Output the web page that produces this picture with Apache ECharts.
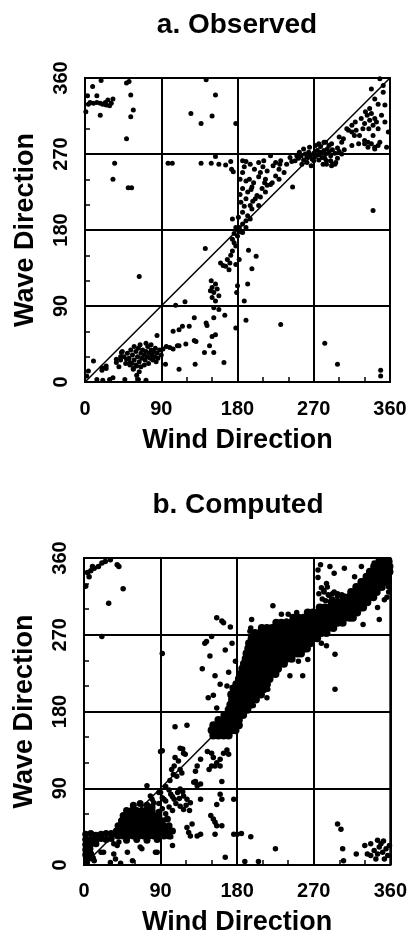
<!DOCTYPE html>
<html>
<head>
<meta charset="utf-8">
<script src="https://cdn.jsdelivr.net/npm/echarts@6/dist/echarts.min.js"></script>
<style>
html,body{margin:0;padding:0;background:#fff;}
#chart{width:410px;height:939px;}
</style>
</head>
<body>
<div id="chart"></div>
<script>
const titleA = 'a. Observed';
const titleB = 'b. Computed';
const xName = 'Wind Direction';
const yName = 'Wave Direction';
const axisMin = 0, axisMax = 360, axisStep = 90;
const diagonal = [[0,0],[360,360]];

// ---- a. Observed: [wind, wave] ----
const obsUpperLeft = [[9,350],[19,357],[3,339],[14,339],[6,331],[10,330],[14,331],[18,330],[21,329],[24,331],[27,334],[31,330],[33,335],[1,320],[18,316],[49,354],[52,356],[54,340],[57,322],[54,314],[49,288],[25,328],[29,327],[4,329],[35,259],[33,240],[51,230],[55,230]];
const obsUpperMid = [[143,358],[154,340],[125,318],[150,315],[137,306],[178,306],[98,259],[103,259],[137,259],[149,259],[154,267],[158,258],[166,257],[172,261],[173,252],[175,249],[174,193]];
const obsAboveDiag = [[190,261],[195,258],[205,260],[211,262],[219,268],[225,260],[231,262],[238,258],[244,261],[186,248],[194,240],[199,236],[207,248],[213,240],[219,234],[225,244],[229,252],[235,248],[186,229],[192,225],[197,231],[203,221],[209,229],[215,233],[221,236],[229,240],[184,213],[190,217],[195,209],[201,217],[207,219],[213,225],[186,201],[192,197],[197,205],[205,209],[190,191],[195,193],[182,183],[186,187],[188,255],[200,252],[210,255],[215,250],[222,256],[190,238],[196,228],[205,243],[212,236],[183,222],[198,214],[188,208],[230,258],[242,266],[250,268],[183,240],[186,262],[181,195],[245,231]];
const obsNear270 = [[248,262],[252,265],[255,268],[258,263],[260,270],[262,266],[264,272],[266,268],[268,264],[270,271],[272,267],[274,274],[276,269],[278,272],[280,266],[282,274],[284,270],[286,276],[288,272],[290,268],[292,275],[295,271],[298,277],[300,273],[303,270],[306,275],[256,258],[262,260],[270,262],[276,263],[283,265],[265,278],[272,280],[278,279],[253,272],[258,276],[290,262],[298,265],[285,262],[267,256],[281,258],[292,258],[296,260],[276,282],[282,284],[288,280],[285,258],[291,256],[295,258]];
const obsUpperRight = [[284,284],[291,282],[303,284],[315,280],[323,282],[330,282],[334,278],[342,278],[346,280],[318,292],[324,292],[330,286],[334,284],[338,282],[326,312],[330,306],[333,316],[336,310],[340,304],[338,318],[342,312],[328,300],[344,308],[335,300],[331,320],[338,347],[342,335],[346,329],[352,343],[354,328],[336,324],[350,316],[354,308],[346,300],[340,292],[348,284],[342,276],[356,278],[358,296],[352,351],[348,359],[309,300],[315,296],[320,298],[311,298],[315,304],[319,308],[300,290],[305,288],[340,203]];
const obsLowerMid = [[178,183],[182,181],[190,183],[186,177],[180,173],[174,169],[176,165],[178,161],[174,155],[182,145],[160,141],[166,137],[170,133],[178,139],[168,145],[172,150],[176,176],[184,178],[171,141],[163,138],[142,158],[193,156],[202,149],[197,134],[192,116],[188,96],[64,125],[149,120],[154,116],[150,112],[152,106],[150,100],[154,96],[158,102],[152,88],[156,110],[148,108],[180,114],[179,106],[107,91],[118,95],[158,86],[165,79],[152,76],[178,64],[190,73],[231,68],[283,46],[298,21],[349,14],[349,7]];
const obsLowerLeft = [[129,76],[144,67],[143,70],[123,66],[115,66],[111,62],[104,60],[150,54],[154,56],[147,43],[141,35],[152,35],[129,49],[131,48],[119,45],[111,43],[100,41],[104,39],[109,43],[96,42],[92,39],[85,55],[95,21],[111,15],[130,21],[164,23],[46,30],[50,34],[52,28],[54,38],[56,32],[58,26],[60,36],[62,30],[63,40],[64,24],[66,34],[67,28],[68,38],[70,32],[71,26],[72,36],[73,30],[74,42],[75,22],[76,34],[77,28],[78,38],[79,32],[80,26],[81,36],[82,30],[83,40],[84,24],[85,34],[86,28],[70,20],[66,18],[60,20],[55,22],[48,22],[42,26],[40,18],[44,36],[78,44],[72,46],[65,44],[88,38],[90,32],[58,42],[10,25],[4,13],[2,7],[14,3],[21,2],[29,3],[33,5],[47,3],[63,3],[72,2],[20,14],[25,16],[37,23],[42,30],[53,20],[57,16],[61,8],[64,12],[20,17],[25,19],[37,27],[43,35],[49,27],[53,23],[57,15],[61,19]];

// ---- b. Computed: [wind, wave] ----
const compUpperLeft = [[4,343],[10,350],[17,350],[21,354],[25,356],[31,358],[39,352],[41,350],[6,338],[2,327],[8,345],[12,348],[46,324],[29,307],[21,268],[92,248]];
const compMid = [[156,290],[162,286],[164,284],[172,279],[197,288],[196,278],[195,274],[222,304],[232,294],[240,294],[238,286],[250,296],[144,262],[150,268],[142,260],[174,260],[166,252],[148,245],[178,239],[139,230],[154,222],[170,226],[160,212],[168,210],[174,208],[146,196],[152,199],[156,184],[295,247],[295,206],[242,222],[257,222],[216,206],[215,196],[199,187],[252,239],[263,241],[279,260],[285,257]];
const compUpperRight = [[275,346],[289,350],[294,342],[306,348],[326,350],[341,354],[275,337],[279,325],[287,317],[292,318],[298,316],[303,317],[306,315],[291,311],[298,315],[287,302],[345,302],[353,311],[347,288],[328,282],[318,338],[326,333],[337,327],[349,335],[359,348],[285,330],[282,320],[284,310],[278,352],[276,318],[282,322],[288,316],[294,320],[280,312],[286,326],[292,312],[298,318],[358,320],[358,326],[356,314]];
const compBandLow = [[152,152],[158,152],[164,152],[170,152],[150,158],[156,158],[162,158],[168,158],[174,158],[178,158],[152,164],[158,164],[164,164],[170,164],[176,164],[182,164],[158,170],[164,170],[170,170],[176,170],[182,170],[165,176],[171,176],[177,176],[183,176],[187,176],[170,182],[176,182],[182,182],[188,182],[192,182],[172,188],[178,188],[184,188],[190,188],[196,188],[174,194],[180,194],[186,194],[192,194],[198,194],[202,194],[173,200],[179,200],[185,200],[191,200],[197,200],[203,200],[208,200],[176,206],[182,206],[188,206],[194,206],[200,206],[206,206],[211,206],[179,212],[185,212],[191,212],[197,212],[203,212],[209,212],[215,212],[182,218],[188,218],[194,218],[200,218],[206,218],[212,218],[218,218],[184,224],[190,224],[196,224],[202,224],[208,224],[214,224],[220,224],[225,224],[186,230],[192,230],[198,230],[204,230],[210,230],[216,230],[222,230],[228,230]];
const compBandMid = [[188,236],[194,236],[200,236],[206,236],[212,236],[218,236],[224,236],[230,236],[235,236],[190,242],[196,242],[202,242],[208,242],[214,242],[220,242],[226,242],[232,242],[238,242],[244,242],[191,248],[197,248],[203,248],[209,248],[215,248],[221,248],[227,248],[233,248],[239,248],[245,248],[251,248],[255,248],[193,254],[199,254],[205,254],[211,254],[217,254],[223,254],[229,254],[235,254],[241,254],[247,254],[253,254],[259,254],[262,254],[194,260],[200,260],[206,260],[212,260],[218,260],[224,260],[230,260],[236,260],[242,260],[248,260],[254,260],[260,260],[266,260],[197,266],[203,266],[209,266],[215,266],[221,266],[227,266],[233,266],[239,266],[245,266],[251,266],[257,266],[263,266],[269,266],[274,266],[201,272],[207,272],[213,272],[219,272],[225,272],[231,272],[237,272],[243,272],[249,272],[255,272],[261,272],[267,272],[273,272],[279,272],[285,272],[209,278],[215,278],[221,278],[227,278],[233,278],[239,278],[245,278],[251,278],[257,278],[263,278],[269,278],[275,278],[281,278],[287,278],[293,278]];
const compBandHigh = [[226,284],[232,284],[238,284],[244,284],[250,284],[256,284],[262,284],[268,284],[274,284],[280,284],[286,284],[292,284],[298,284],[304,284],[246,290],[252,290],[258,290],[264,290],[270,290],[276,290],[282,290],[288,290],[294,290],[300,290],[306,290],[312,290],[316,290],[263,296],[269,296],[275,296],[281,296],[287,296],[293,296],[299,296],[305,296],[311,296],[317,296],[321,296],[277,302],[283,302],[289,302],[295,302],[301,302],[307,302],[313,302],[319,302],[325,302],[328,302],[291,308],[297,308],[303,308],[309,308],[315,308],[321,308],[327,308],[333,308],[305,314],[311,314],[317,314],[323,314],[329,314],[335,314],[340,314],[314,320],[320,320],[326,320],[332,320],[338,320],[344,320],[320,326],[326,326],[332,326],[338,326],[344,326],[350,326],[326,332],[332,332],[338,332],[344,332],[350,332],[356,332],[332,338],[338,338],[344,338],[350,338],[356,338],[336,344],[342,344],[348,344],[354,344],[359,344],[341,350],[347,350],[353,350],[359,350],[347,356],[353,356],[358,356]];
const compLowerScatter = [[107,162],[121,164],[90,133],[113,137],[117,131],[107,126],[111,122],[106,116],[113,112],[145,133],[137,124],[133,116],[131,110],[150,131],[152,126],[156,120],[154,116],[160,116],[160,124],[164,131],[168,135],[170,130],[150,116],[147,112],[162,98],[131,98],[137,95],[105,106],[109,104],[74,93],[78,81],[80,77],[82,73],[90,85],[94,77],[102,83],[106,77],[110,85],[113,89],[117,81],[121,77],[125,73],[113,69],[117,65],[160,83],[162,77],[176,77],[156,71],[137,77],[149,58],[152,54],[156,46],[154,50],[137,36],[133,34],[121,44],[123,38],[125,34],[176,36],[180,36],[166,9],[102,33],[104,23],[86,15],[66,21],[35,25],[39,23],[20,15],[35,13],[57,5],[31,3],[43,2],[225,19],[196,33],[189,4],[205,4],[185,37],[298,48],[302,42],[304,19],[320,13],[305,5],[116,136],[119,130],[103,112],[115,108],[92,134],[129,97],[133,93],[101,99],[88,85],[92,79],[96,75],[162,46],[127,48],[154,36],[84,15],[68,19],[41,27],[51,15],[37,7],[23,15],[12,5],[96,92],[100,88],[104,80],[108,72],[112,78],[116,86],[120,70],[124,64],[100,68],[104,64],[96,60],[92,66],[88,72]];
const compLowerDense = [[58,70],[66,72],[74,70],[80,68],[50,64],[56,64],[62,64],[68,64],[74,64],[80,64],[88,62],[46,58],[52,58],[58,58],[64,58],[70,58],[76,58],[82,58],[88,58],[44,52],[50,52],[56,52],[62,52],[68,52],[74,52],[80,52],[86,52],[92,52],[98,54],[40,46],[46,46],[52,46],[58,46],[64,46],[70,46],[76,46],[82,46],[88,46],[94,46],[100,46],[38,40],[44,40],[50,40],[56,40],[62,40],[68,40],[74,40],[80,40],[86,40],[92,40],[98,40],[104,40],[40,34],[46,34],[52,34],[58,34],[64,34],[70,34],[76,34],[82,34],[88,34],[94,34],[100,34],[50,29],[62,30],[74,29],[86,30],[2,36],[8,37],[14,35],[20,36],[26,37],[32,37],[38,36],[2,30],[8,30],[14,30],[20,31],[26,30],[32,31],[2,24],[8,25],[14,25],[2,18],[7,19],[2,12],[8,13],[4,8],[10,8],[3,3]];
const compLowerRight = [[330,23],[337,25],[345,29],[349,25],[341,17],[345,13],[351,15],[355,19],[357,11],[353,7],[333,13],[337,11],[343,7],[359,23],[347,21],[352,28]];

const observedPoints = [].concat(obsUpperLeft, obsUpperMid, obsAboveDiag, obsNear270, obsUpperRight, obsLowerMid, obsLowerLeft);
const computedSparse = [].concat(compUpperLeft, compMid, compUpperRight, compLowerScatter, compLowerRight);
const computedBand = [].concat(compBandLow, compBandMid, compBandHigh);

const FONT = 'Liberation Sans, Arial, sans-serif';
const ink = '#000';

function axisCommon(gi, labelMargin, nameGap, name, rotate) {
  return {
    gridIndex: gi, type: 'value', min: axisMin, max: axisMax, interval: axisStep,
    axisLine: {show: true, onZero: false, lineStyle: {color: ink, width: 2}},
    axisTick: {show: true, inside: true, length: 4, lineStyle: {color: ink, width: 1.5}},
    minorTick: {show: true, splitNumber: 3, length: 5, lineStyle: {color: ink, width: 1.5}},
    splitLine: {show: true, lineStyle: {color: ink, width: 2}},
    axisLabel: {color: ink, fontSize: 20, fontWeight: 'bold', fontFamily: FONT, margin: labelMargin, rotate: rotate},
    name: name, nameLocation: 'middle', nameGap: nameGap,
    nameTextStyle: {color: ink, fontSize: 27, fontWeight: 'bold', fontFamily: FONT}
  };
}
function scatterSeries(gi, data, size) {
  return {type: 'scatter', xAxisIndex: gi, yAxisIndex: gi, data: data, symbolSize: size,
          itemStyle: {color: ink, opacity: 1}};
}
function diagSeries(gi) {
  return {type: 'line', xAxisIndex: gi, yAxisIndex: gi, data: diagonal, symbol: 'none', silent: true,
          lineStyle: {color: ink, width: 1.5}};
}

const chart = echarts.init(document.getElementById('chart'), null, {renderer: 'canvas'});
chart.setOption({
  backgroundColor: '#fff',
  animation: false,
  title: [
    {text: titleA, left: 237, top: 11, textAlign: 'center', padding: 0,
     textStyle: {color: ink, fontSize: 28, fontWeight: 'bold', fontFamily: FONT}},
    {text: titleB, left: 238, top: 491, textAlign: 'center', padding: 0,
     textStyle: {color: ink, fontSize: 28, fontWeight: 'bold', fontFamily: FONT}}
  ],
  grid: [
    {left: 85, top: 78, width: 305, height: 304, show: true, borderColor: ink, borderWidth: 2, backgroundColor: 'transparent'},
    {left: 84, top: 558, width: 309, height: 307, show: true, borderColor: ink, borderWidth: 2, backgroundColor: 'transparent'}
  ],
  xAxis: [axisCommon(0, 17, 45, xName, 0), axisCommon(1, 16, 44, xName, 0)],
  yAxis: [axisCommon(0, 14, 46, yName, 90), axisCommon(1, 14, 46, yName, 90)],
  series: [
    diagSeries(0),
    scatterSeries(0, observedPoints, 5),
    diagSeries(1),
    scatterSeries(1, computedSparse, 5.5),
    scatterSeries(1, computedBand, 8),
    scatterSeries(1, compLowerDense, 7)
  ]
});
</script>
</body>
</html>
